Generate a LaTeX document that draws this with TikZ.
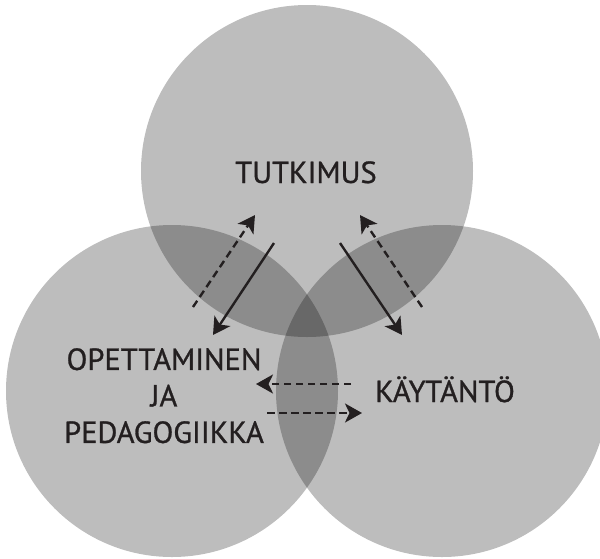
\documentclass[tikz,border=0pt]{standalone}
\usepackage{fontspec}
\setmainfont{PT Sans}
\newfontfamily\labelfont{PT Sans}[FakeBold=0.9]
\usetikzlibrary{arrows.meta}
\definecolor{ink}{HTML}{231F20}
\begin{document}
\begin{tikzpicture}[x=1pt,y=-1pt,
  disc/.style={fill=black,fill opacity=0.26},
  label/.style={text=ink,font=\labelfont\fontsize{30.5}{36.5}\selectfont,inner sep=0pt},
  flow/.style={draw=ink,line width=2.4pt,-{Stealth[length=17pt,width=19pt,inset=4.5pt]}},
  flowdash/.style={flow,dash pattern=on 7.5pt off 4.5pt}]
  \useasboundingbox (0,0) rectangle (600,558);
  \clip (0,0) rectangle (600,558);

  % the three overlapping discs
  \fill[disc] (307,171) circle[radius=166];
  \fill[disc] (172,391) circle[radius=166];
  \fill[disc] (442,391) circle[radius=166];

  % labels
  \node[label,anchor=base] (tut) at (306,183) {TUTKIMUS};
  \node[label,anchor=base] (kay) at (445,402) {KÄYTÄNTÖ};
  \node[label,align=center,anchor=north] (ope) at (164,348)
    {OPETTAMINEN\\JA\\PEDAGOGIIKKA};

  % arrow end points
  \coordinate (a1s) at (193,307); \coordinate (a1e) at (255,215);
  \coordinate (a2s) at (274,243); \coordinate (a2e) at (213,335);
  \coordinate (a3s) at (340,243); \coordinate (a3e) at (402,335);
  \coordinate (a4s) at (422,307); \coordinate (a4e) at (360,215);
  \coordinate (a5s) at (351,384); \coordinate (a5e) at (256,384);
  \coordinate (a6s) at (267,413); \coordinate (a6e) at (362,413);

  \draw[flowdash] (a1s) -- (a1e);
  \draw[flow] (a2s) -- (a2e);
  \draw[flow] (a3s) -- (a3e);
  \draw[flowdash] (a4s) -- (a4e);
  \draw[flowdash] (a5s) -- (a5e);
  \draw[flowdash] (a6s) -- (a6e);
\end{tikzpicture}
\end{document}
